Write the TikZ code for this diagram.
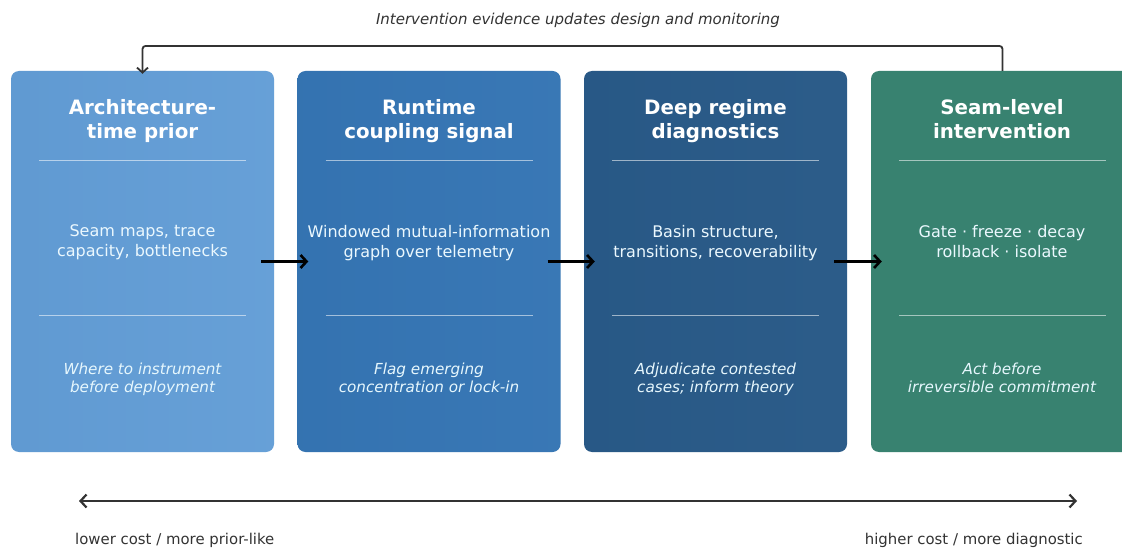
\documentclass[tikz,border=0pt]{standalone}
\usepackage{fontspec}
\setmainfont{DejaVu Sans}
\usetikzlibrary{arrows.meta}
\definecolor{cA}{RGB}{98,157,214}
\definecolor{cB}{RGB}{53,117,180}
\definecolor{cC}{RGB}{40,89,135}
\definecolor{cD}{RGB}{56,130,112}
\definecolor{ink}{RGB}{51,51,51}
\tikzset{
  stage/.style={rectangle, rounded corners=8pt, minimum width=263pt, minimum height=381pt, inner sep=0pt, draw=none},
  ttl/.style={text=white, font=\fontsize{19.8}{24}\selectfont\bfseries, align=center, text depth=0pt},
  body/.style={text=white!92!cyan, font=\fontsize{16}{20}\selectfont, align=center, text depth=0pt},
  note/.style={text=white!90!cyan, font=\fontsize{15.2}{18}\selectfont\itshape, align=center, text depth=0pt},
  divider/.style={draw=white, opacity=0.55, line width=1pt},
  flow/.style={draw=black, line width=2.6pt, -{Straight Barb[length=6pt,width=13pt,line width=2.6pt]}},
  loop/.style={draw=ink, line width=1.8pt, rounded corners=3pt, -{Straight Barb[length=5pt,width=11pt,line width=1.8pt]}},
  span/.style={draw=ink, line width=2.2pt, {Straight Barb[length=6pt,width=13pt,line width=2.2pt]}-{Straight Barb[length=6pt,width=13pt,line width=2.2pt]}},
  caption/.style={text=ink, font=\fontsize{14.9}{17}\selectfont, inner sep=0pt}
}
\begin{document}
\begin{tikzpicture}[x=1pt,y=-1pt]
\useasboundingbox (0,0) rectangle (1122,548);
\clip (0,0) rectangle (1122,548);
\fill[white] (0,0) rectangle (1122,548);
% boxes
\node[stage, left color=cA!98!black, right color=cA!97!white] (b1) at (142.5,261.5) {};
\node[stage, left color=cB!98!black, right color=cB!98!white] (b2) at (429,261.5) {};
\node[stage, left color=cC!99!black, right color=cC!98!white] (b3) at (715.5,261.5) {};
\node[stage, fill=cD] (b4) at (1002.5,261.5) {};
% titles
\node[ttl] (t1) at (142.5,119) {Architecture-\\time prior};
\node[ttl] (t2) at (429,119) {Runtime\\coupling signal};
\node[ttl] (t3) at (715.5,119) {Deep regime\\diagnostics};
\node[ttl] (t4) at (1002,119) {Seam-level\\intervention};
% dividers
\foreach \c/\n in {142.5/1,429/2,715.5/3,1002.5/4}{
  \draw[divider] (\c-103.5,161) -- (\c+103.5,161);
  \draw[divider] (\c-103.5,315) -- (\c+103.5,315);
}
% body
\node[body] (m1) at (142.5,241) {Seam maps, trace\\capacity, bottlenecks};
\node[body] (m2) at (429,241) {Windowed mutual-information\\graph over telemetry};
\node[body] (m3) at (715.5,241) {Basin structure,\\transitions, recoverability};
\node[body] (m4) at (1002,241) {Gate · freeze · decay\\rollback · isolate};
% notes
\node[note] (n1) at (142.5,378) {Where to instrument\\before deployment};
\node[note] (n2) at (429,378) {Flag emerging\\concentration or lock-in};
\node[note] (n3) at (715.5,378) {Adjudicate contested\\cases; inform theory};
\node[note] (n4) at (1002,378) {Act before\\irreversible commitment};
% flow arrows
\draw[flow] (b1.east) ++(-13,0) -- ([xshift=11pt]b2.west);
\draw[flow] (b2.east) ++(-13,0) -- ([xshift=11pt]b3.west);
\draw[flow] (b3.east) ++(-13,0) -- ([xshift=11pt]b4.west);
% feedback loop
\coordinate (lt) at (142.5,46);
\coordinate (rt) at (1002.5,46);
\draw[loop] (b4.north -| rt) -- (rt) -- (lt) -- ([yshift=-3pt]b1.north);
\node[font=\fontsize{15}{17}\selectfont\itshape, text=ink] (fb) at (578,20) {Intervention evidence updates design and monitoring};
% cost axis
\coordinate (al) at (79,501);
\coordinate (ar) at (1077,501);
\draw[span] (al) -- (ar);
\node[caption, anchor=west] (lc) at (75,540.5) {lower cost / more prior-like};
\node[caption, anchor=east] (hc) at (1083,540.5) {higher cost / more diagnostic};
\end{tikzpicture}
\end{document}
